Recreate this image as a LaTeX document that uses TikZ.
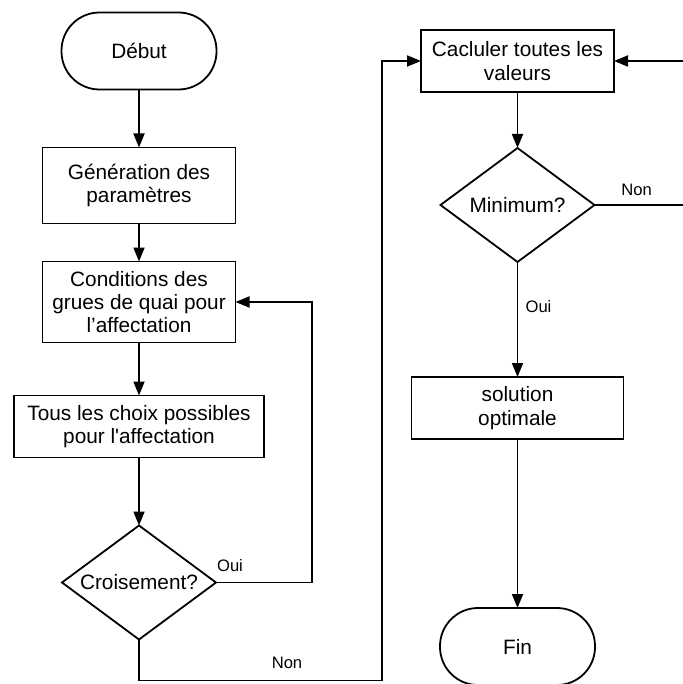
\documentclass[tikz,border=0pt]{standalone}
\usepackage{fontspec}
\setmainfont{Liberation Sans}
\usetikzlibrary{shapes,arrows,positioning,calc,arrows.meta}

\begin{document}
\begin{tikzpicture}[node distance=0cm, outer sep=0pt, line width=0.9pt,
    box/.style={rectangle, draw, align=center, inner sep=2pt, font=\fontsize{10.4}{11.7}\selectfont},
    term/.style={rectangle, draw, rounded corners=19pt, minimum width=77.5pt, minimum height=38.5pt, font=\fontsize{10.4}{11.7}\selectfont},
    decision/.style={diamond, draw, aspect=1.35, inner sep=0pt, minimum width=77pt, minimum height=57pt, font=\fontsize{10.4}{11.7}\selectfont},
    arr/.style={-{Triangle[length=7pt,width=5.5pt]}},
    lbl/.style={font=\fontsize{8.3}{10}\selectfont, inner sep=0pt}]
    \useasboundingbox (0,0) rectangle (341.5pt,-342pt);

    \node [term] (debut) at (69.5pt,-25.5pt) {Début};
    \node [box, minimum width=96.5pt, minimum height=38pt, below=29pt of debut] (gen) {Génération des\\paramètres};
    \node [box, minimum width=96.5pt, minimum height=40.5pt, below=19pt of gen] (cond) {Conditions des\\grues de quai pour\\l’affectation};
    \node [box, minimum width=125pt, minimum height=31pt, below=26.5pt of cond] (choix) {Tous les choix possibles\\pour l\textquotesingle affectation};
    \node [decision, below=34pt of choix] (crois) {Croisement?};

    \node [box, minimum width=96.5pt, minimum height=31pt] (calc) at (258.75pt,-30.5pt) {Cacluler toutes les\\valeurs};
    \node [decision, below=28pt of calc] (mini) {Minimum?};
    \node [box, minimum width=106pt, minimum height=31pt, below=57.5pt of mini] (sol) {solution\\optimale};
    \node [term, below=84.5pt of sol] (fin) {Fin};

    \draw [arr] (debut) -- (gen);
    \draw [arr] (gen) -- (cond);
    \draw [arr] (cond) -- (choix);
    \draw [arr] (choix) -- (crois);
    \draw [arr] (crois.east) -- ++(48pt,0) |- (cond.east);
    \draw [arr] (crois.south) -- ++(0,-20.5pt) -- ++(121.5pt,0) |- (calc.west);
    \draw [arr] (calc) -- (mini);
    \draw [arr] (mini.east) -- ++(45pt,0) |- (calc.east);
    \draw [arr] (mini) -- (sol);
    \draw [arr] (sol) -- (fin);

    \node [lbl] (ouiA) at ([shift={(7pt,8.5pt)}]crois.east) {Oui};
    \node [lbl] (nonA) at ([shift={(74pt,-11.5pt)}]crois.south) {Non};
    \node [lbl] (nonB) at ([shift={(21pt,7.5pt)}]mini.east) {Non};
    \node [lbl] (ouiB) at ([shift={(10.5pt,-22.5pt)}]mini.south) {Oui};
\end{tikzpicture}
\end{document}
